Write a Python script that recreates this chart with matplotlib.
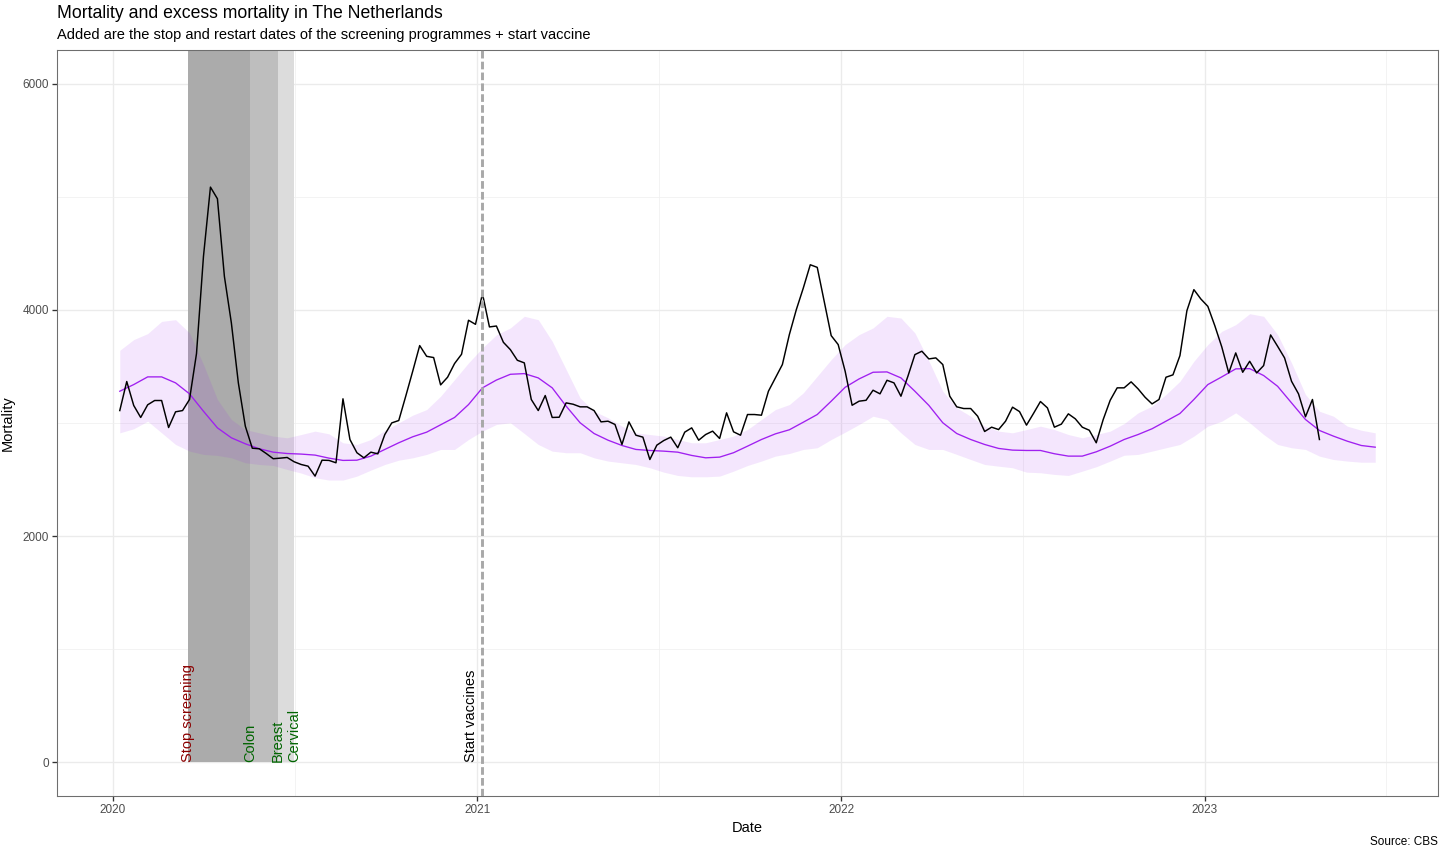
"""Mortality vs expected mortality in NL, with screening stop/restart shading."""

import numpy as np
import matplotlib
matplotlib.use("Agg")
import matplotlib.pyplot as plt
import matplotlib.dates as mdates

plt.rcParams["font.family"] = ["Liberation Sans", "DejaVu Sans"]

# weekly observed deaths (CBS), first week ~ 2020-01-08
mortality = [
    3110, 3367, 3155, 3049, 3161, 3199, 3199, 2960, 3099, 3110, 3208, 3614, 4474, 5087,
    4984, 4297, 3885, 3355, 2972, 2777, 2772, 2730, 2684, 2689, 2695, 2657, 2633,
    2618, 2530, 2671, 2669, 2648, 3214, 2854, 2737, 2692, 2742, 2727, 2898, 3001, 3022,
    3237, 3458, 3685, 3590, 3579, 3337, 3405, 3526, 3608, 3909, 3873, 4144, 3850, 3858,
    3714, 3649, 3555, 3532, 3208, 3110, 3243, 3049, 3051, 3178, 3166, 3143, 3143, 3110,
    3010, 3016, 2987, 2810, 3010, 2892, 2875, 2677, 2804, 2845, 2875, 2781, 2919, 2957,
    2848, 2898, 2928,
    2863, 3090, 2922, 2892, 3075, 3075, 3069, 3281, 3399, 3517, 3782, 4003, 4194, 4400,
    4377, 4076, 3773, 3694, 3458, 3157, 3193, 3201, 3290, 3258, 3378, 3355, 3237, 3414,
    3605, 3635, 3567,
    3576, 3517, 3237, 3143, 3128, 3128, 3060, 2925, 2963, 2942, 3016, 3140, 3101, 2981,
    3084, 3190, 3134, 2963, 2990, 3081, 3037, 2963, 2936, 2825, 3031, 3201, 3311, 3311,
    3364,
    3302, 3228, 3169, 3208, 3405, 3426, 3596, 3994, 4180, 4097, 4032, 3861, 3673, 3443,
    3620, 3449, 3546, 3443, 3508, 3779, 3679, 3576, 3369, 3258, 3055, 3208, 2854,
]

# expected mortality and its band, read every second week
expected = [
    3281, 3340, 3408, 3408, 3355, 3258, 3104, 2957, 2869, 2816, 2772, 2742, 2730, 2725,
    2716, 2689, 2669, 2671, 2707, 2766, 2825, 2878, 2919, 2984, 3049, 3163, 3311, 3380,
    3431, 3437, 3399, 3311, 3149, 3002, 2907, 2848, 2801, 2766, 2757, 2751, 2742, 2713, 2692,
    2698, 2737, 2795, 2854, 2904, 2940, 3007, 3075, 3193, 3316, 3390, 3449, 3452, 3399, 3281, 3156,
    3002, 2907, 2854, 2810, 2775, 2760, 2757, 2757, 2728, 2707, 2707, 2745, 2795, 2854,
    2898, 2949, 3016, 3084, 3208, 3340, 3408, 3479, 3481, 3420, 3325, 3178, 3031, 2934,
    2884, 2839, 2801, 2786,
]
expected_hi = [
    3643, 3738, 3791, 3899, 3914, 3797, 3517, 3208, 3031, 2942, 2913, 2884, 2869, 2898,
    2928, 2904, 2825, 2810, 2854, 2934, 3002, 3069, 3119, 3237, 3384, 3532, 3664, 3780,
    3841, 3944, 3914, 3723, 3473, 3222, 3104, 3046, 2972, 2913, 2898, 2884, 2854, 2825, 2825,
    2854, 2884, 2942, 3031, 3119, 3163, 3267, 3414, 3561, 3694, 3782, 3841, 3944, 3929, 3797, 3550,
    3281, 3134, 3060, 2972, 2928, 2913, 2942, 2972, 2942, 2898, 2869, 2898, 2928, 2995,
    3090, 3149, 3252, 3369, 3546, 3694, 3811, 3870, 3967, 3944, 3782, 3532, 3252, 3104,
    3060, 2972, 2936, 2913,
]
expected_lo = [
    2913, 2949, 3016, 2913, 2810, 2751, 2722, 2713, 2692, 2648, 2633, 2624, 2589, 2557,
    2516, 2495, 2495, 2530, 2583, 2633, 2671, 2692, 2722, 2766, 2766, 2854, 2928, 2987,
    3002, 2907, 2810, 2751, 2737, 2737, 2692, 2663, 2648, 2633, 2604, 2565, 2536, 2524, 2524,
    2530, 2574, 2624, 2663, 2707, 2730, 2766, 2781, 2854, 2919, 2987, 3060, 3031, 2913, 2810, 2766,
    2766, 2722, 2677, 2633, 2618, 2604, 2565, 2560, 2545, 2536, 2574, 2613, 2663, 2715,
    2722, 2751, 2781, 2810, 2884, 2972, 3016, 3090, 3002, 2898, 2810, 2781, 2766, 2707,
    2677, 2663, 2653, 2653,
]

first_week = np.datetime64("2020-01-08")
week_dates = first_week + np.arange(len(mortality)) * np.timedelta64(7, "D")
exp_dates = first_week + np.arange(len(expected)) * np.timedelta64(14, "D")

stop_date = "2020-03-16"
restart_dates = ["2020-05-18", "2020-06-15", "2020-07-01"]
restart_labels = ["Colon", "Breast", "Cervical"]
shade_colors = ["#ABABAB", "#BEBEBE", "#DCDCDC"]
vaccine_date = "2021-01-06"

year_ticks = ["2020-01-01", "2021-01-01", "2022-01-01", "2023-01-01"]
year_labels = ["2020", "2021", "2022", "2023"]
mid_years = ["2020-07-02", "2021-07-02", "2022-07-02", "2023-07-02"]
y_ticks = [0, 2000, 4000, 6000]
y_minor = [1000, 3000, 5000]


def dnum(s):
    return mdates.date2num(np.datetime64(s))


W, H = 1447, 855
fig = plt.figure(figsize=(W / 96, H / 96), dpi=96)
ax = fig.add_axes([57 / W, 1 - 796 / H, (1438 - 57) / W, (796 - 50) / H])

ylo, yhi = -300, 6300
ax.set_ylim(ylo, yhi)
x0 = mdates.date2num(week_dates[0])
x1 = mdates.date2num(exp_dates[-1])
pad = 0.05 * (x1 - x0)
ax.set_xlim(x0 - pad, x1 + pad)

# screening shades, from y=0 up to the top of the panel
yfrac = (0 - ylo) / (yhi - ylo)
left = dnum(stop_date)
for d, c in zip(restart_dates, shade_colors):
    ax.axvspan(left, dnum(d), ymin=yfrac, ymax=1, color=c, lw=0, zorder=1)
    left = dnum(d)

ax.fill_between(exp_dates, expected_lo, expected_hi, color="#A020F0", alpha=0.11,
                lw=0, zorder=2)
ax.plot(exp_dates, expected, color="#A020F0", lw=1.0, zorder=3)
ax.plot(week_dates, mortality, color="black", lw=1.1, zorder=4)

ax.axvline(dnum(vaccine_date), color="#A8A8A8", lw=2.2, dashes=(2.6, 1.1), zorder=5)

ax.text(dnum(stop_date), 0, "Stop screening", rotation=90, ha="center", va="bottom",
        color="#8B0000", fontsize=11, zorder=6)
for d, lab in zip(restart_dates, restart_labels):
    ax.text(dnum(d), 0, lab, rotation=90, ha="center", va="bottom",
            color="#006400", fontsize=11, zorder=6)
ax.annotate("Start vaccines", (dnum(vaccine_date), 0), xytext=(-3, 0),
            textcoords="offset points", rotation=90, ha="right", va="bottom",
            color="black", fontsize=11, zorder=6)

ax.set_xticks([dnum(t) for t in year_ticks])
ax.set_xticklabels(year_labels)
ax.set_xticks([dnum(t) for t in mid_years], minor=True)
ax.set_yticks(y_ticks)
ax.set_yticks(y_minor, minor=True)

ax.set_axisbelow(True)
ax.grid(True, which="major", color="#EBEBEB", lw=1.0)
ax.grid(True, which="minor", color="#F0F0F0", lw=0.6)
ax.tick_params(which="major", length=3.5, width=1.0, color="#333333",
               labelcolor="#4D4D4D", labelsize=8.8, pad=2.5)
ax.tick_params(which="minor", length=0)
for s in ax.spines.values():
    s.set_color("#6E6E6E")
    s.set_linewidth(0.8)

ax.set_xlabel("Date", fontsize=11, labelpad=4)
ax.set_ylabel("Mortality", fontsize=11, labelpad=6)

fig.text(57 / W, 1 - 14 / H, "Mortality and excess mortality in The Netherlands",
         fontsize=13.2, ha="left", va="center")
fig.text(57 / W, 1 - 35 / H,
         "Added are the stop and restart dates of the screening programmes + start vaccine",
         fontsize=11, ha="left", va="center")
fig.text(1438 / W, 1 - 842 / H, "Source: CBS", fontsize=8.8, ha="right", va="center")

fig.savefig("out.png", dpi=96)
plt.close(fig)
